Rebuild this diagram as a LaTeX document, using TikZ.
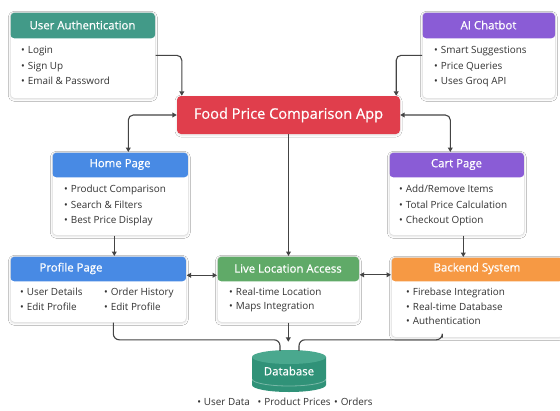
\documentclass[tikz,border=0pt]{standalone}
\usepackage{fontspec}
\setmainfont{Open Sans}
\newfontfamily\headfont[FakeBold=0.6]{Open Sans}
\usetikzlibrary{arrows.meta,shadows.blur}

\definecolor{tealH}{RGB}{66,154,136}
\definecolor{purpH}{RGB}{138,92,214}
\definecolor{redA}{RGB}{224,62,76}
\definecolor{blueH}{RGB}{72,138,228}
\definecolor{greenH}{RGB}{96,170,104}
\definecolor{orangeH}{RGB}{246,153,68}
\definecolor{dbBody}{RGB}{48,146,120}
\definecolor{dbTop}{RGB}{74,168,142}
\definecolor{textc}{RGB}{51,51,51}
\definecolor{cardline}{RGB}{224,224,224}
\definecolor{linec}{RGB}{68,68,68}

% one line of a bullet list, numbered prefix-1, prefix-2, ...
\newcommand\bulletlist[5]{%
  \foreach \t [count=\i] in {#5}{%
    \node[item] (#1-\i) at (#2,{#3+#4*(\i-1)}) {•\hspace{0.3em}\t};}}

\tikzset{
  card/.style n args={4}{draw=cardline, fill=white, line width=0.6pt,
    rounded corners=4pt, inner sep=0pt, anchor=north west,
    minimum width=#1, minimum height=#2,
    blur shadow={shadow xshift=0pt, shadow yshift=-1pt,
                 shadow blur radius=2pt, shadow opacity=12},
    path picture={\fill[#3] (path picture bounding box.north west)
      rectangle ([yshift=-#4]path picture bounding box.north east);}},
  title/.style={text=white, inner sep=0pt,
    font=\headfont\fontsize{11.4}{13}\selectfont},
  item/.style={anchor=west, inner sep=0pt, text=textc,
    text height=7pt, text depth=2pt,
    font=\fontsize{9.9}{11}\selectfont},
  conn/.style={draw=linec, line width=1.1pt,
    -{Triangle[length=4.5pt,width=4.8pt]}},
  conn2/.style={draw=linec, line width=1.1pt,
    {Triangle[length=4.5pt,width=4.8pt]}-{Triangle[length=4.5pt,width=4.8pt]}},
  link/.style={draw=linec, line width=1.1pt, rounded corners=6pt},
}

\begin{document}
\begin{tikzpicture}[x=1pt,y=-1pt]
\fill[white] (0,0) rectangle (560,410);
\useasboundingbox (0,0) rectangle (560,410);

% ---------- main application ----------
\node[fill=redA, rounded corners=4pt, minimum width=223pt, minimum height=38pt,
      inner sep=0pt, text=white, font=\headfont\fontsize{14.6}{16}\selectfont,
      blur shadow={shadow xshift=0pt, shadow yshift=-1pt,
                   shadow blur radius=2pt, shadow opacity=12}]
      (app) at (288.5,115) {Food Price Comparison App};

% ---------- cards ----------
\node[card={145pt}{86pt}{tealH}{26pt}] (ua) at (10,12) {};
\node[title] (ua-t) at (82.5,25) {User Authentication};
\bulletlist{ua}{21}{51}{15.5}{Login, Sign Up, Email \& Password}

\node[card={133pt}{86pt}{purpH}{26pt}] (ai) at (422,12) {};
\node[title] (ai-t) at (488.5,25) {AI Chatbot};
\bulletlist{ai}{434}{51}{15.5}{Smart Suggestions, Price Queries, Uses Groq API}

\node[card={136pt}{83pt}{blueH}{25pt}] (home) at (52,152) {};
\node[title] (home-t) at (120,164.5) {Home Page};
\bulletlist{home}{64}{190}{15.5}{Product Comparison, Search \& Filters, Best Price Display}

\node[card={135pt}{83pt}{purpH}{25pt}] (cart) at (389,152) {};
\node[title] (cart-t) at (456.5,164.5) {Cart Page};
\bulletlist{cart}{399}{190}{15.5}{Add/Remove Items, Total Price Calculation, Checkout Option}

\node[card={176pt}{66pt}{blueH}{25pt}] (profile) at (10,256) {};
\node[title] (profile-t) at (71,268.5) {Profile Page};
\bulletlist{profa}{20}{293}{14.5}{User Details, Edit Profile}
\bulletlist{profb}{104}{293}{14.5}{Order History, Edit Profile}

\node[card={142pt}{66pt}{greenH}{25pt}] (live) at (217,256) {};
\node[title] (live-t) at (288,268.5) {Live Location Access};
\bulletlist{live}{229}{292.5}{14.5}{Real-time Location, Maps Integration}

\node[card={172pt}{80pt}{orangeH}{24pt}] (backend) at (391,257) {};
\node[title] (backend-t) at (477,268.5) {Backend System};
\bulletlist{be}{406}{293}{14.5}{Firebase Integration, Real-time Database, Authentication}

% ---------- database cylinder ----------
\fill[dbBody] (252,357) -- (252,385) arc[start angle=180, end angle=0,
  x radius=37, y radius=7] -- (326,357) -- cycle;
\draw[white, opacity=0.35, line width=0.8pt] (252,379) arc[start angle=180,
  end angle=0, x radius=37, y radius=7];
\fill[dbTop] (289,357) ellipse[x radius=37, y radius=7];
\node[minimum width=74pt, minimum height=42pt, inner sep=0pt, text=white,
      font=\headfont\fontsize{11.4}{13}\selectfont, text depth=0pt,
      yshift=-2pt] (db) at (289,369) {Database};
\node[item, anchor=center] (db-note) at (285,403)
  {•\hspace{0.3em}User Data\hspace{0.8em}•\hspace{0.3em}Product Prices\hspace{0.35em}•\hspace{0.3em}Orders};

% ---------- connectors ----------
\draw[conn, rounded corners=5pt] (ua.east) -| ([xshift=5pt]app.north west);
\draw[conn, rounded corners=5pt] (ai.west) -| ([xshift=-4pt]app.north east);
\draw[conn2, rounded corners=5pt] ([xshift=8pt]home.north) |- (app.west);
\draw[conn2, rounded corners=5pt] ([xshift=-6.5pt]cart.north) |- (app.east);
\draw[conn] (app.south) -- (app.south |- live.north);
\draw[conn] ([xshift=-6pt]home.south) -- ([xshift=-6pt]home.south |- profile.north);
\draw[conn] ([xshift=6.5pt]cart.south) -- ([xshift=6.5pt]cart.south |- backend.north);
\draw[conn2] ([yshift=14pt]profile.east) -- ([yshift=14pt]profile.east -| live.west);
\draw[conn2] ([yshift=14.5pt]live.east) -- ([yshift=14.5pt]live.east -| backend.west);
\draw[conn, shorten >=1pt] (live.south) -- ([yshift=7pt]live.south |- db.north);
\draw[link] ([xshift=15pt]profile.south) |- ([xshift=-9pt,yshift=10pt]db.north)
  -- ([xshift=-9pt,yshift=-1pt]db.north);
\draw[link] ([xshift=-35pt]backend.south) |- ([xshift=10pt,yshift=10pt]db.north)
  -- ([xshift=10pt,yshift=-1pt]db.north);
\end{tikzpicture}
\end{document}
